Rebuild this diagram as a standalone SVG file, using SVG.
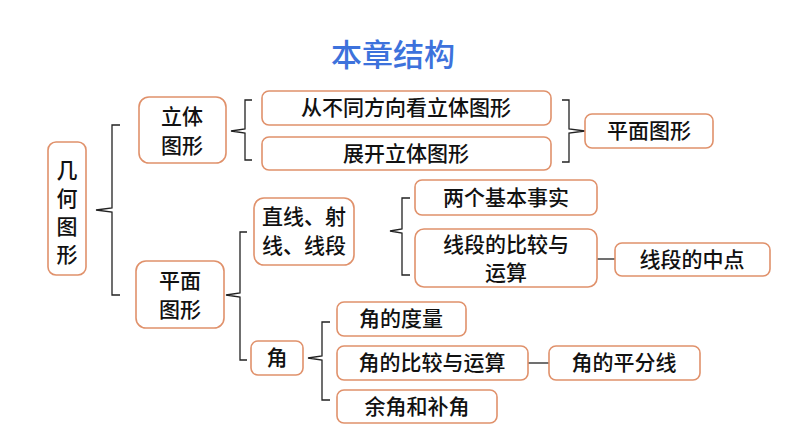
<svg xmlns="http://www.w3.org/2000/svg" width="794" height="447" viewBox="0 0 794 447">
<style>
.b{fill:#fff;stroke:#e0916b;stroke-width:1.6}
.t{font-family:"Noto Sans CJK SC",sans-serif;font-size:21px;font-weight:500;fill:#111;text-anchor:middle}
.c{fill:none;stroke:#222;stroke-width:1.3}
</style>
<rect width="794" height="447" fill="#fff"/>
<text x="393" y="66" style="font-family:'Noto Sans CJK SC',sans-serif;font-size:31px;font-weight:500;fill:#3d72dc;text-anchor:middle">本章结构</text>
<g id="connectors">
<path class="c" d="M120,125 H112 V208 L96,210 L112,212 V295 H120"/>
<path class="c" d="M252,100 H245 V129 L231,131 L245,133 V160 H252"/>
<path class="c" d="M562,100 H569 V129 L585,131 L569,133 V162 H562"/>
<path class="c" d="M247,232 H240 V293 L226,295 L240,297 V360 H247"/>
<path class="c" d="M410,198 H402 V229 L390,231 L402,233 V275 H410"/>
<path class="c" d="M330,322 H322 V356 L308,358 L322,360 V400 H330"/>
<path class="c" d="M597,259 H615"/>
<path class="c" d="M528,363 H549"/>
</g>
<g id="n1"><rect class="b" x="48" y="142" width="38" height="133" rx="8"/><text class="t" x="67" y="178">几</text><text class="t" x="67" y="206">何</text><text class="t" x="67" y="234">图</text><text class="t" x="67" y="262">形</text></g>
<g id="n2"><rect class="b" x="139" y="97" width="87" height="66" rx="10"/><text class="t" x="182" y="124">立体</text><text class="t" x="182" y="153">图形</text></g>
<g id="n3"><rect class="b" x="136" y="261" width="88" height="67" rx="10"/><text class="t" x="180" y="288">平面</text><text class="t" x="180" y="317">图形</text></g>
<g id="n4"><rect class="b" x="262" y="91" width="289" height="34" rx="7"/><text class="t" x="406" y="115">从不同方向看立体图形</text></g>
<g id="n5"><rect class="b" x="262" y="137" width="289" height="33" rx="7"/><text class="t" x="406" y="161">展开立体图形</text></g>
<g id="n6"><rect class="b" x="585" y="114" width="128" height="34" rx="7"/><text class="t" x="649" y="138">平面图形</text></g>
<g id="n7"><rect class="b" x="254" y="198" width="100" height="67" rx="10"/><text class="t" x="304" y="224">直线、射</text><text class="t" x="304" y="253">线、线段</text></g>
<g id="n8"><rect class="b" x="251" y="341" width="52" height="34" rx="7"/><text class="t" x="277" y="365">角</text></g>
<g id="n9"><rect class="b" x="415" y="180" width="182" height="35" rx="7"/><text class="t" x="506" y="205">两个基本事实</text></g>
<g id="n10"><rect class="b" x="415" y="229" width="182" height="58" rx="9"/><text class="t" x="506" y="252">线段的比较与</text><text class="t" x="506" y="280">运算</text></g>
<g id="n11"><rect class="b" x="615" y="243" width="155" height="33" rx="7"/><text class="t" x="692" y="267">线段的中点</text></g>
<g id="n12"><rect class="b" x="337" y="302" width="129" height="34" rx="7"/><text class="t" x="401" y="326">角的度量</text></g>
<g id="n13"><rect class="b" x="337" y="346" width="191" height="34" rx="7"/><text class="t" x="432" y="370">角的比较与运算</text></g>
<g id="n14"><rect class="b" x="549" y="346" width="151" height="34" rx="7"/><text class="t" x="624" y="370">角的平分线</text></g>
<g id="n15"><rect class="b" x="337" y="390" width="160" height="33" rx="7"/><text class="t" x="417" y="414">余角和补角</text></g>
</svg>
